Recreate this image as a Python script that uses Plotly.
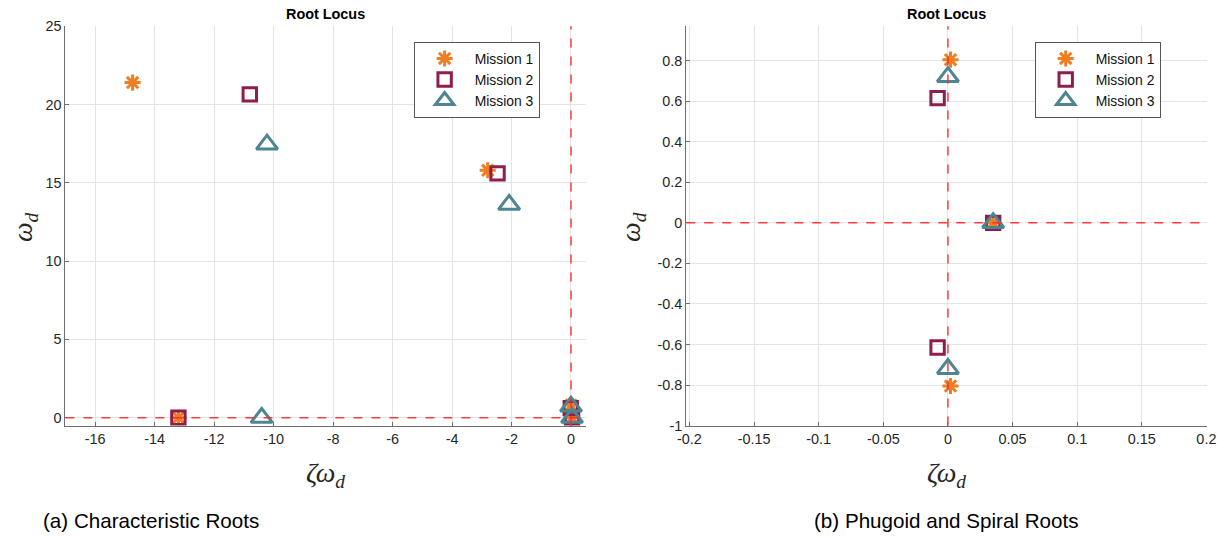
import plotly.graph_objects as go

# Root locations (real part = zeta*omega_d, imaginary part = omega_d)
# (a) characteristic roots, upper half-plane
m1_char_re = [-14.74, -2.8, -13.2, 0.002, 0.035]
m1_char_im = [21.4, 15.8, 0.0, 0.805, 0.0]
m2_char_re = [-10.8, -2.47, -13.2, -0.008, 0.035]
m2_char_im = [20.65, 15.6, 0.0, 0.615, 0.0]
m3_char_re = [-10.22, -2.08, -10.4, 0.0, 0.035]
m3_char_im = [17.45, 13.6, 0.0, 0.72, 0.0]

# (b) phugoid pair and spiral root
m1_ph_re = [0.002, 0.002, 0.035]
m1_ph_im = [0.805, -0.805, 0.0]
m2_ph_re = [-0.008, -0.008, 0.035]
m2_ph_im = [0.615, -0.615, 0.0]
m3_ph_re = [0.0, 0.0, 0.035]
m3_ph_im = [0.72, -0.72, 0.0]

series_names = ["Mission 1", "Mission 2", "Mission 3"]

# Tick positions / labels
a_xticks = [-16, -14, -12, -10, -8, -6, -4, -2, 0]
a_xlabels = ["-16", "-14", "-12", "-10", "-8", "-6", "-4", "-2", "0"]
a_yticks = [0, 5, 10, 15, 20, 25]
a_ylabels = ["0", "5", "10", "15", "20", "25"]
b_xticks = [-0.2, -0.15, -0.1, -0.05, 0, 0.05, 0.1, 0.15, 0.2]
b_xlabels = ["-0.2", "-0.15", "-0.1", "-0.05", "0", "0.05", "0.1", "0.15", "0.2"]
b_yticks = [-1, -0.8, -0.6, -0.4, -0.2, 0, 0.2, 0.4, 0.6, 0.8]
b_ylabels = ["-1", "-0.8", "-0.6", "-0.4", "-0.2", "0", "0.2", "0.4", "0.6", "0.8"]

ORANGE = "#EF7D22"
MAROON = "#8E1F4C"
TEAL = "#4D8592"
SANS = "Liberation Sans, Arial, sans-serif"
SERIF = "Liberation Serif, DejaVu Serif, serif"

W, H = 1228, 538
BODY = 8                     # default page body margin
SX, SY = 1228 / 1240, 538 / 554
K = 1 / SY                   # size compensation


def px(x):
    """Horizontal layout position -> paper fraction."""
    return (x / SX - BODY) / W


def py(y):
    """Vertical layout position (from top) -> paper fraction."""
    return 1 - (y / SY - BODY) / H


def fs(size):
    return round(size * K, 1)


styles = [
    dict(symbol="asterisk-open", size=fs(13), color=ORANGE, line=dict(color=ORANGE, width=3)),
    dict(symbol="square-open", size=fs(13), color=MAROON, line=dict(color=MAROON, width=3)),
    dict(symbol="triangle-up-open", size=fs(18), color=TEAL, line=dict(color=TEAL, width=3)),
]

fig = go.Figure()

char_sets = [(m1_char_re, m1_char_im), (m2_char_re, m2_char_im), (m3_char_re, m3_char_im)]
ph_sets = [(m1_ph_re, m1_ph_im), (m2_ph_re, m2_ph_im), (m3_ph_re, m3_ph_im)]

for name, st, (re, im) in zip(series_names, styles, char_sets):
    fig.add_trace(go.Scatter(x=re, y=im, mode="markers", name=name, marker=st,
                             xaxis="x", yaxis="y", legend="legend"))
for name, st, (re, im) in zip(series_names, styles, ph_sets):
    fig.add_trace(go.Scatter(x=re, y=im, mode="markers", name=name, marker=st,
                             xaxis="x2", yaxis="y2", legend="legend2"))

# plot areas
ax_a = (64.6, 587.7)
ax_b = (688.6, 1212.0)
top_px, bot_px = 26.0, 425.7
ydom = [py(bot_px), py(top_px)]

axis_common = dict(
    showline=True, linecolor="#6E6E6E", linewidth=1,
    ticks="inside", ticklen=4, tickcolor="#6E6E6E",
    showgrid=True, gridcolor="#E4E4E4", gridwidth=1,
    zeroline=False, mirror=False,
    tickfont=dict(family=SANS, size=fs(14), color="#262626"),
)

legend_common = dict(
    xanchor="left", yanchor="top",
    bgcolor="white", bordercolor="#555555", borderwidth=1,
    font=dict(family=SANS, size=fs(13.5), color="#111111"),
    itemwidth=50, tracegroupgap=0,
)

fig.update_layout(
    width=W, height=H,
    margin=dict(l=0, r=0, t=0, b=0),
    paper_bgcolor="white", plot_bgcolor="white",
    xaxis=dict(domain=[px(ax_a[0]), px(ax_a[1])], range=[-17, 0.5],
               tickvals=a_xticks, ticktext=a_xlabels, anchor="y", **axis_common),
    yaxis=dict(domain=ydom, range=[-0.5, 25],
               tickvals=a_yticks, ticktext=a_ylabels, anchor="x", **axis_common),
    xaxis2=dict(domain=[px(ax_b[0]), px(ax_b[1])], range=[-0.2025, 0.2005],
                tickvals=b_xticks, ticktext=b_xlabels, anchor="y2", **axis_common),
    yaxis2=dict(domain=ydom, range=[-1, 0.97],
                tickvals=b_yticks, ticktext=b_ylabels, anchor="x2", **axis_common),
    showlegend=True,
    legend=dict(x=px(414.6), y=py(41.7), **legend_common),
    legend2=dict(x=px(1038.8), y=py(41.7), **legend_common),
)

# Dashed reference lines through the origin
dash = dict(color="rgba(255,40,40,0.9)", width=1.5, dash="dash")
for xr, yr in (("x", "y"), ("x2", "y2")):
    fig.add_shape(type="line", xref=xr, yref=f"{yr} domain", x0=0, x1=0, y0=0, y1=1,
                  line=dash, layer="above")
    fig.add_shape(type="line", xref=f"{xr} domain", yref=yr, x0=0, x1=1, y0=0, y1=0,
                  line=dash, layer="above")


def label(text, x, y, size, family, xanchor="center", angle=0, color="black"):
    fig.add_annotation(text=text, xref="paper", yref="paper", x=px(x), y=py(y),
                       xanchor=xanchor, yanchor="middle", showarrow=False,
                       textangle=angle, font=dict(family=family, size=fs(size), color=color))


# Titles and axis labels
for cx, ylab_x in (((ax_a[0] + ax_a[1]) / 2, 23), ((ax_b[0] + ax_b[1]) / 2, 634)):
    label("<b>Root Locus</b>", cx, 14, 14, SANS)
    label("<i>ζω</i><sub><i>d</i></sub>", cx, 475, 27, SERIF, color="#262626")
    label("<i>ω</i><sub><i>d</i></sub>", ylab_x, 227, 27, SERIF, angle=-90, color="#262626")

# Sub-figure captions
label("(a) Characteristic Roots", 40, 521, 20, SANS, xanchor="left")
label("(b) Phugoid and Spiral Roots", 950, 521, 20, SANS)

fig.write_html("out.html")
